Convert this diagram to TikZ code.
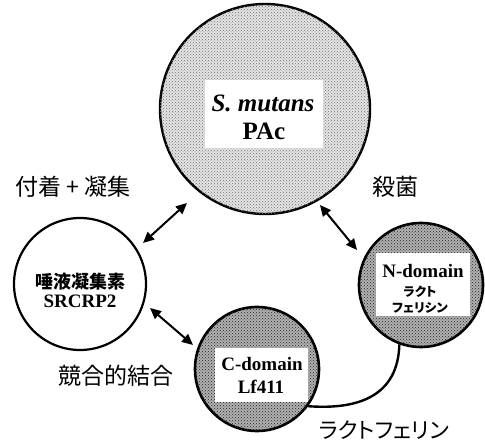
\documentclass[tikz,border=0pt]{standalone}
\usepackage{fontspec}
\setmainfont{Liberation Serif}
\newfontfamily\jp{Noto Sans CJK JP}
\newfontfamily\jpp[RawFeature=+palt]{Noto Sans CJK JP}
\usetikzlibrary{arrows.meta,patterns}
\begin{document}
\begin{tikzpicture}[x=1pt,y=-1pt,
  lightball/.style={circle, draw, line width=2.4pt, inner sep=0pt, fill=gray!22,
     postaction={pattern=crosshatch dots, pattern color=black!55}},
  darkball/.style={circle, draw, line width=2.6pt, inner sep=0pt, fill=gray!62,
     postaction={pattern=crosshatch dots, pattern color=black!85}},
  whiteball/.style={circle, draw, line width=2.2pt, inner sep=0pt, fill=white},
  labelbox/.style={fill=white, inner sep=0pt, align=center},
  plain/.style={inner sep=0pt},
  biglabel/.style={font=\jp\fontsize{23}{25}\selectfont, inner sep=0pt},
  dbl/.style={line width=2pt, {Triangle[length=11pt,width=10pt]}-{Triangle[length=11pt,width=10pt]}}
]
\useasboundingbox (0,0) rectangle (485,443);
% circles
\node[lightball, minimum size=210pt] (pac) at (265,109) {};
\node[labelbox, minimum width=118pt, minimum height=68pt] (pacbox) at (264,114) {};
\node[plain, font=\bfseries\itshape\fontsize{25}{27}\selectfont] (pac1) at (263,103) {S. mutans};
\node[plain, font=\bfseries\fontsize{25}{27}\selectfont] (pac2) at (264,131) {PAc};
\node[whiteball, minimum size=132pt] (src) at (80,284) {};
\node[plain, font=\jp\bfseries\fontsize{18}{20}\selectfont] (src1) at (80,282) {唾液凝集素};
\node[plain, font=\bfseries\fontsize{19}{21}\selectfont] (src2) at (80,301) {SRCRP2};
\node[darkball, minimum size=124pt] (nd) at (421,285) {};
\node[labelbox, minimum width=94pt, minimum height=63pt] (ndbox) at (423,285) {};
\node[plain, font=\bfseries\fontsize{19}{21}\selectfont] (nd1) at (423,271) {N-domain};
\node[plain, font=\jpp\bfseries\fontsize{12.5}{14}\selectfont] (nd2) at (420,292) {ラクト};
\node[plain, font=\jpp\bfseries\fontsize{12.5}{14}\selectfont] (nd3) at (420,308) {フェリシン};
\node[darkball, minimum size=124pt] (cd) at (257,369) {};
\node[labelbox, minimum width=93pt, minimum height=54pt] (cdbox) at (261,375) {};
\node[plain, font=\bfseries\fontsize{19}{21}\selectfont] (cd1) at (262,364) {C-domain};
\node[plain, font=\bfseries\fontsize{19}{21}\selectfont] (cd2) at (261,387) {Lf411};
% connecting curve
\draw[line width=2.4pt] (nd.250) .. controls (398,395) and (360,410) .. (cd.-36);
% labels
\node[biglabel] (l1) at (73,187) {付着 + 凝集};
\node[biglabel] (l2) at (395,187) {殺菌};
\node[biglabel] (l3) at (116,376) {競合的結合};
\node[biglabel, font=\jpp\fontsize{22}{24}\selectfont] (l4) at (384,430) {ラクトフェリン};
% arrows
\coordinate (a1s) at (143,243); \coordinate (a1e) at (187,203);
\coordinate (a2s) at (320,205); \coordinate (a2e) at (357,250);
\coordinate (a3s) at (150,308); \coordinate (a3e) at (193,345);
\draw[dbl] (a1s) -- (a1e);
\draw[dbl] (a2s) -- (a2e);
\draw[dbl] (a3s) -- (a3e);
\end{tikzpicture}
\end{document}
